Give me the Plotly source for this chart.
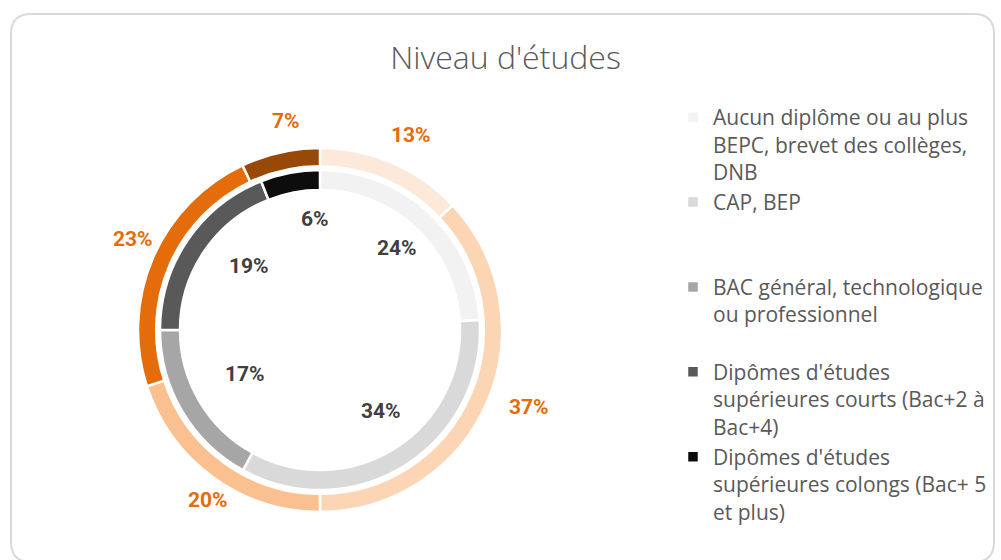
import math
import plotly.graph_objects as go

W, H = 1001, 560

# niveaux d'études (libellés de la légende)
niveaux = [
    "Aucun diplôme ou au plus<br>BEPC, brevet des collèges,<br>DNB",
    "CAP, BEP",
    "BAC général, technologique<br>ou professionnel",
    "Dipômes d'études<br>supérieures courts (Bac+2 à<br>Bac+4)",
    "Dipômes d'études<br>supérieures colongs (Bac+ 5<br>et plus)",
]
# anneau intérieur (gris) et extérieur (orange), en %
anneau_int = [24, 34, 17, 19, 6]
anneau_ext = [13, 37, 20, 23, 7]

gris = ["#F2F2F2", "#D9D9D9", "#A6A6A6", "#595959", "#0D0D0D"]
oranges = ["#FDE9D9", "#FCD5B4", "#FAC090", "#E46C0A", "#984807"]

# géométrie en pixels
cx, cy = 320, 330
r_ext, r_int = 182, 160


def domaine(r):
    return dict(x=[(cx - r) / W, (cx + r) / W],
                y=[(H - cy - r) / H, (H - cy + r) / H])


# légende façon Excel : chaque entrée occupe 3 lignes
def trois_lignes(s):
    n = s.count("<br>") + 1
    return s + "<br> " * (3 - n)


labels = [trois_lignes(s) for s in niveaux]

fig = go.Figure()
fig.add_trace(go.Pie(
    labels=labels, values=anneau_int, hole=140 / 160, sort=False,
    direction="clockwise", rotation=0, domain=domaine(r_int),
    marker=dict(colors=gris, line=dict(color="white", width=2.5)),
    textinfo="none", hoverinfo="label+percent"
))
fig.add_trace(go.Pie(
    labels=labels, values=anneau_ext, hole=0.9, sort=False,
    direction="clockwise", rotation=0, domain=domaine(r_ext),
    marker=dict(colors=oranges, line=dict(color="white", width=2.5)),
    textinfo="none", hoverinfo="label+percent", showlegend=False
))


def etiquettes(vals, rayon, couleur):
    total = sum(vals)
    cum = 0
    for v in vals:
        a = 2 * math.pi * (cum + v / 2) / total
        cum += v
        x = cx + rayon * math.sin(a)
        y = cy - rayon * math.cos(a)
        fig.add_annotation(
            x=x / W, y=1 - y / H, xref="paper", yref="paper",
            text=f"{v}%", showarrow=False,
            font=dict(family="Roboto", size=21, color=couleur, weight="bold")
        )


etiquettes(anneau_int, 113, "#404040")
etiquettes(anneau_ext, 228, "#E46C0A")

# cadre arrondi du graphique
x0, y0, x1, y1, rc = 11, 14, 994, 562, 20
cadre = (f"M{x0 + rc},{y0} L{x1 - rc},{y0} Q{x1},{y0} {x1},{y0 + rc} "
         f"L{x1},{y1 - rc} Q{x1},{y1} {x1 - rc},{y1} L{x0 + rc},{y1} "
         f"Q{x0},{y1} {x0},{y1 - rc} L{x0},{y0 + rc} Q{x0},{y0} {x0 + rc},{y0} Z")
fig.add_shape(type="path", path=cadre, xref="x", yref="y",
              line=dict(color="#D9D9D9", width=2))
fig.update_xaxes(range=[0, W], visible=False, fixedrange=True)
fig.update_yaxes(range=[H, 0], visible=False, fixedrange=True)

fig.update_layout(
    width=W, height=H,
    margin=dict(l=0, r=0, t=0, b=0),
    paper_bgcolor="white", plot_bgcolor="rgba(0,0,0,0)",
    title=dict(text="Niveau d'études", x=0.505, xanchor="center",
               y=1 - 58 / H, yanchor="middle",
               font=dict(family="Open Sans", size=32, color="#595959", weight=300)),
    legend=dict(x=673 / W, xanchor="left", y=1 - 97 / H, yanchor="top",
                valign="top", font=dict(family="Open Sans", size=21, color="#595959"),
                bgcolor="rgba(0,0,0,0)"),
)

fig.write_html("out.html", config={"displayModeBar": False},
               post_script="document.body.style.margin='0';")
